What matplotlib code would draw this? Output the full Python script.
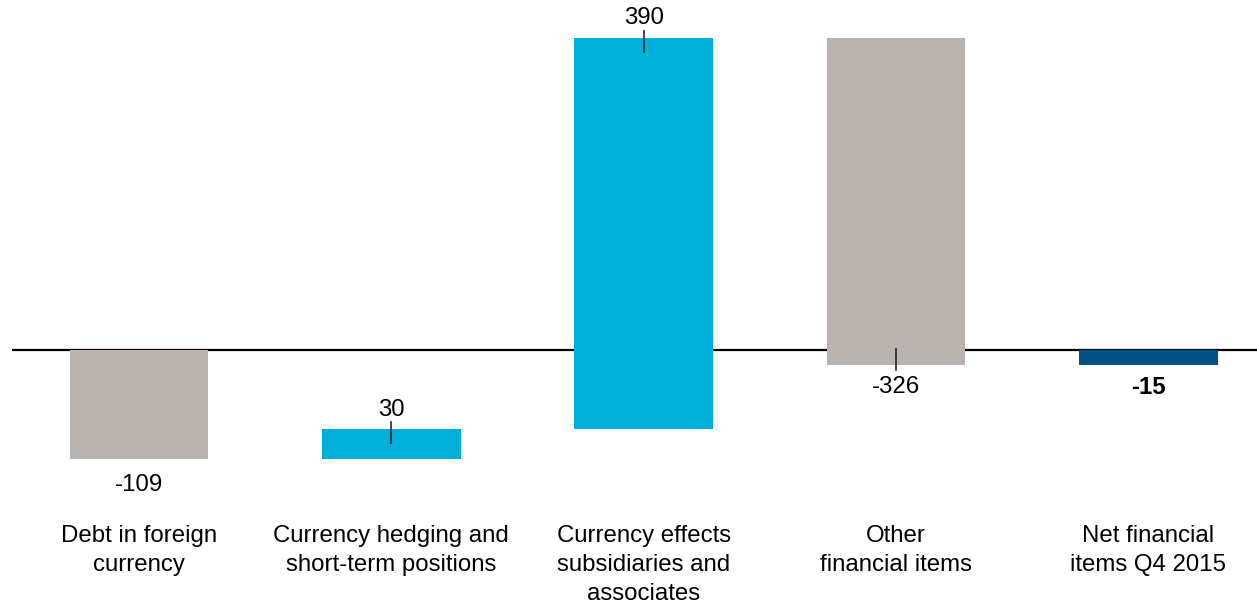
import matplotlib
matplotlib.use("Agg")
import matplotlib.pyplot as plt
from matplotlib.patches import Rectangle

plt.rcParams['font.family'] = ['Liberation Sans', 'DejaVu Sans']

categories = [
    "Debt in foreign\ncurrency",
    "Currency hedging and\nshort-term positions",
    "Currency effects\nsubsidiaries and\nassociates",
    "Other\nfinancial items",
    "Net financial\nitems Q4 2015",
]
changes = [-109, 30, 390, -326]
total = -15
leader = [False, True, True, True, False]

GRAY = "#BAB2AF"
CYAN = "#00B0DB"
NAVY = "#005288"
FS = 17.3

W, H = 1257, 603
fig = plt.figure(figsize=(W / 100, H / 100), dpi=100)
ax = fig.add_axes([12 / W, 0, 1 - 12 / W, 1])

# pixel scale: zero line at 350 px from top, ~1.003 px per unit
scale = 1.003
ax.set_ylim((350 - H) / scale, 350 / scale)
ax.set_xlim(-0.503, 4.43)
ax.axis("off")

ax.axhline(0, color="black", lw=1.6, zorder=1)

width = 0.55
starts, ends, colors, values = [], [], [], []
level = 0
for v in changes:
    starts.append(level)
    ends.append(level + v)
    colors.append(CYAN if v > 0 else GRAY)
    values.append(v)
    level += v
starts.append(0)
ends.append(total)
colors.append(NAVY)
values.append(total)

px = 1 / scale  # one pixel in data units
for i, (s, e, c, v) in enumerate(zip(starts, ends, colors, values)):
    lo, hi = min(s, e), max(s, e)
    ax.add_patch(Rectangle((i - width / 2, lo), width, hi - lo, color=c, lw=0, zorder=2))
    bold = i == len(values) - 1
    label = f"{v}"
    if v > 0:
        if leader[i]:
            ax.plot([i, i], [e + 7 * px, e - 14 * px], color="#222222", lw=1.2, zorder=3)
        ax.text(i, e + (19 if i == 1 else 20) * px, label, ha="center", va="center",
                fontsize=FS, fontweight="bold" if bold else "normal", zorder=4)
    else:
        if leader[i]:
            ax.plot([i, i], [lo + 16 * px, lo - 5 * px], color="#222222", lw=1.2, zorder=3)
        off = 26 if i == 0 else 22
        ax.text(i, lo - off * px, label, ha="center", va="center", fontsize=FS,
                fontweight="bold" if bold else "normal", zorder=4)

for i, cat in enumerate(categories):
    ax.text(i, (350 - 525) / scale, cat, ha="center", va="top", fontsize=FS,
            linespacing=1.4)

fig.savefig("out.png", dpi=100)
